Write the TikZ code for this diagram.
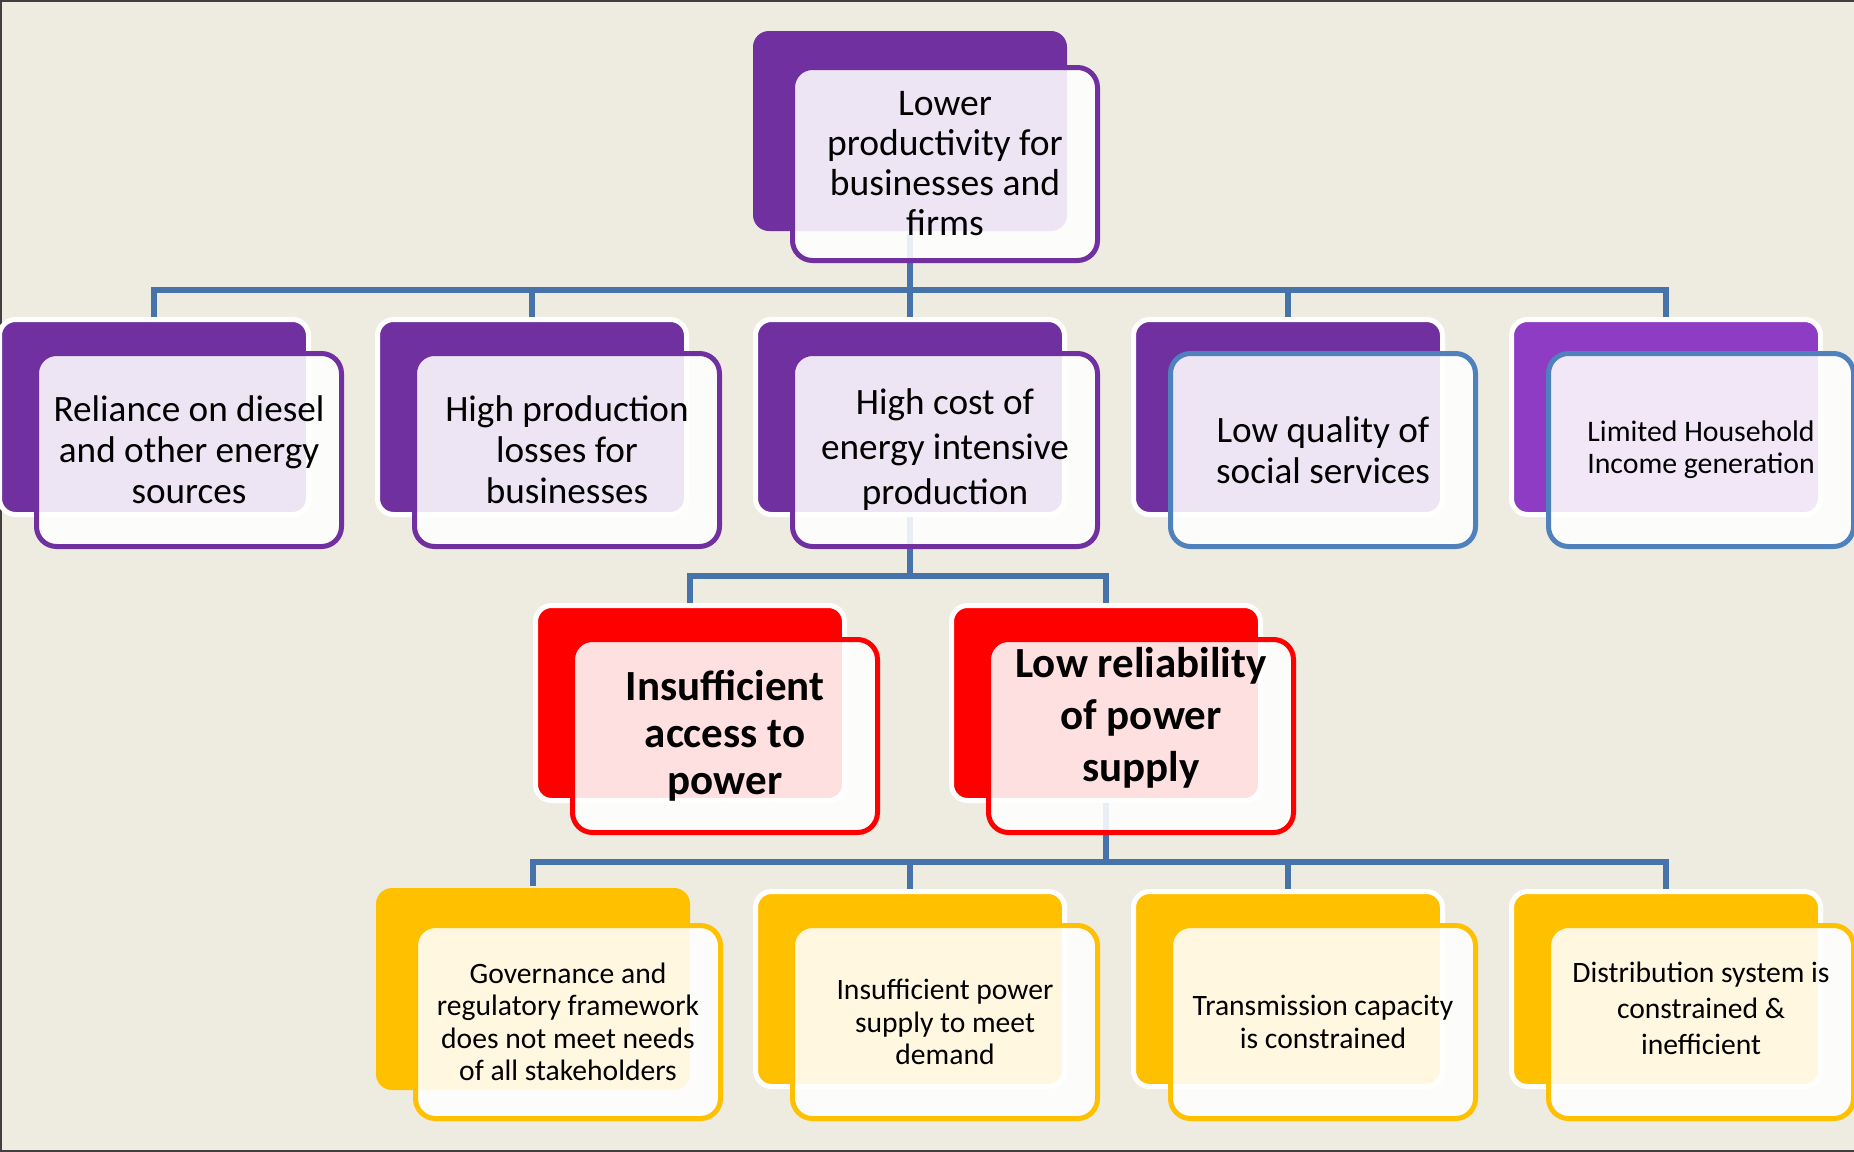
\documentclass[tikz,border=0pt]{standalone}
\usepackage{fontspec}
\setmainfont{Carlito}

\definecolor{paper}{HTML}{EEEBE1}
\definecolor{framegray}{HTML}{404040}
\definecolor{plum}{HTML}{7030A0}
\definecolor{violet}{HTML}{8E3CC4}
\definecolor{alarm}{HTML}{FF0000}
\definecolor{amber}{HTML}{FFC000}
\definecolor{linkblue}{HTML}{4674AA}
\definecolor{edgeblue}{HTML}{4F81BD}

\tikzset{
    back/.style={fill=#1, draw=white, line width=2.5pt, rounded corners=8pt,
        minimum width=154.5pt, minimum height=97.5pt, inner sep=0pt},
    front/.style={draw=#1, line width=2.5pt, rounded corners=10pt,
        fill=white, fill opacity=0.88, text opacity=1, align=center,
        minimum width=152.5pt, minimum height=96.5pt, inner sep=2pt,
        font=\fontsize{18.6pt}{20.5pt}\selectfont},
    small/.style={font=\fontsize{14.8pt}{16.2pt}\selectfont},
    big/.style={font=\fontsize{21.5pt}{24pt}\selectfont\bfseries},
    link/.style={draw=linkblue, line width=2.8pt},
}

\begin{document}
\begin{tikzpicture}[x=0.5pt,y=-0.5pt]
    \useasboundingbox (0,0) rectangle (1854,1152);
    \clip (0,0) rectangle (1854,1152);
    \fill[paper] (0,0) rectangle (1854,1152);
    \draw[framegray, line width=2pt] (1854,0) -- (0,0) -- (0,1152) -- (1854,1152);

    % back plates
    \node[back=plum, draw=none, minimum width=157pt, minimum height=100pt] (lowprodback) at (910,131) {};

    \node[back=plum] (relianceback) at (154,417) {};
    \node[back=plum] (lossesback) at (532,417) {};
    \node[back=plum] (costback) at (910,417) {};
    \node[back=plum] (socialback) at (1288,417) {};
    \node[back=violet] (incomeback) at (1666,417) {};

    \node[back=alarm] (accessback) at (690,703) {};
    \node[back=alarm] (reliabilityback) at (1106,703) {};

    \node[back=amber, draw=none, minimum width=157pt, minimum height=101pt] (governanceback) at (533,989) {};
    \node[back=amber] (demandback) at (910,989) {};
    \node[back=amber] (transmissionback) at (1288,989) {};
    \node[back=amber] (distributionback) at (1666,989) {};

    % connectors
    \coordinate (busa) at (910,290);
    \draw[link] (lowprodback.south) -- (busa);
    \foreach \n in {relianceback,lossesback,costback,socialback,incomeback}
        \draw[link] (busa) -| (\n.north);

    \coordinate (busb) at (910,576);
    \draw[link] (costback.south) -- (busb);
    \foreach \n in {accessback,reliabilityback}
        \draw[link] (busb) -| (\n.north);

    \coordinate (busc) at (1106,862);
    \draw[link] (reliabilityback.south) -- (busc);
    \foreach \n in {governanceback,demandback,transmissionback,distributionback}
        \draw[link] (busc) -| (\n.north);

    % front cards
    \node[front=plum, font=\fontsize{18.8pt}{20pt}\selectfont] (lowprod) at ([shift={(35,33)}]lowprodback) {Lower\\productivity for\\businesses and\\firms};

    \node[front=plum] (reliance) at ([shift={(35,33)}]relianceback) {Reliance on diesel\\and other energy\\sources};
    \node[front=plum] (losses) at ([shift={(35,33)}]lossesback) {High production\\losses for\\businesses};
    \node[front=plum, font=\fontsize{18.6pt}{22.5pt}\selectfont] (cost) at ([shift={(35,33)}]costback) {High cost of\\energy intensive\\production};
    \node[front=edgeblue] (social) at ([shift={(35,33)}]socialback) {Low quality of\\social services};
    \node[front=edgeblue, font=\fontsize{14.9pt}{16pt}\selectfont] (income) at ([shift={(35,33)}]incomeback) {Limited Household\\Income generation};

    \node[front=alarm, big, font=\fontsize{21.5pt}{23.5pt}\selectfont\bfseries] (access) at ([shift={(35,33)}]accessback) {Insufficient\\access to\\power};
    \node[front=alarm, big, font=\fontsize{21.5pt}{26pt}\selectfont\bfseries] (reliability) at ([shift={(35,33)}]reliabilityback) {Low reliability\\of power\\supply\\[-4pt]\mbox{}};

    \node[front=amber, small] (governance) at ([shift={(35,33)}]governanceback) {Governance and\\regulatory framework\\does not meet needs\\of all stakeholders};
    \node[front=amber, small] (demand) at ([shift={(35,33)}]demandback) {Insufficient power\\supply to meet\\demand};
    \node[front=amber, small] (transmission) at ([shift={(35,33)}]transmissionback) {Transmission capacity\\is constrained};
    \node[front=amber, font=\fontsize{14.8pt}{18pt}\selectfont] (distribution) at ([shift={(35,33)}]distributionback) {Distribution system is\\constrained \&\\inefficient\\[-4pt]\mbox{}};
\end{tikzpicture}
\end{document}
